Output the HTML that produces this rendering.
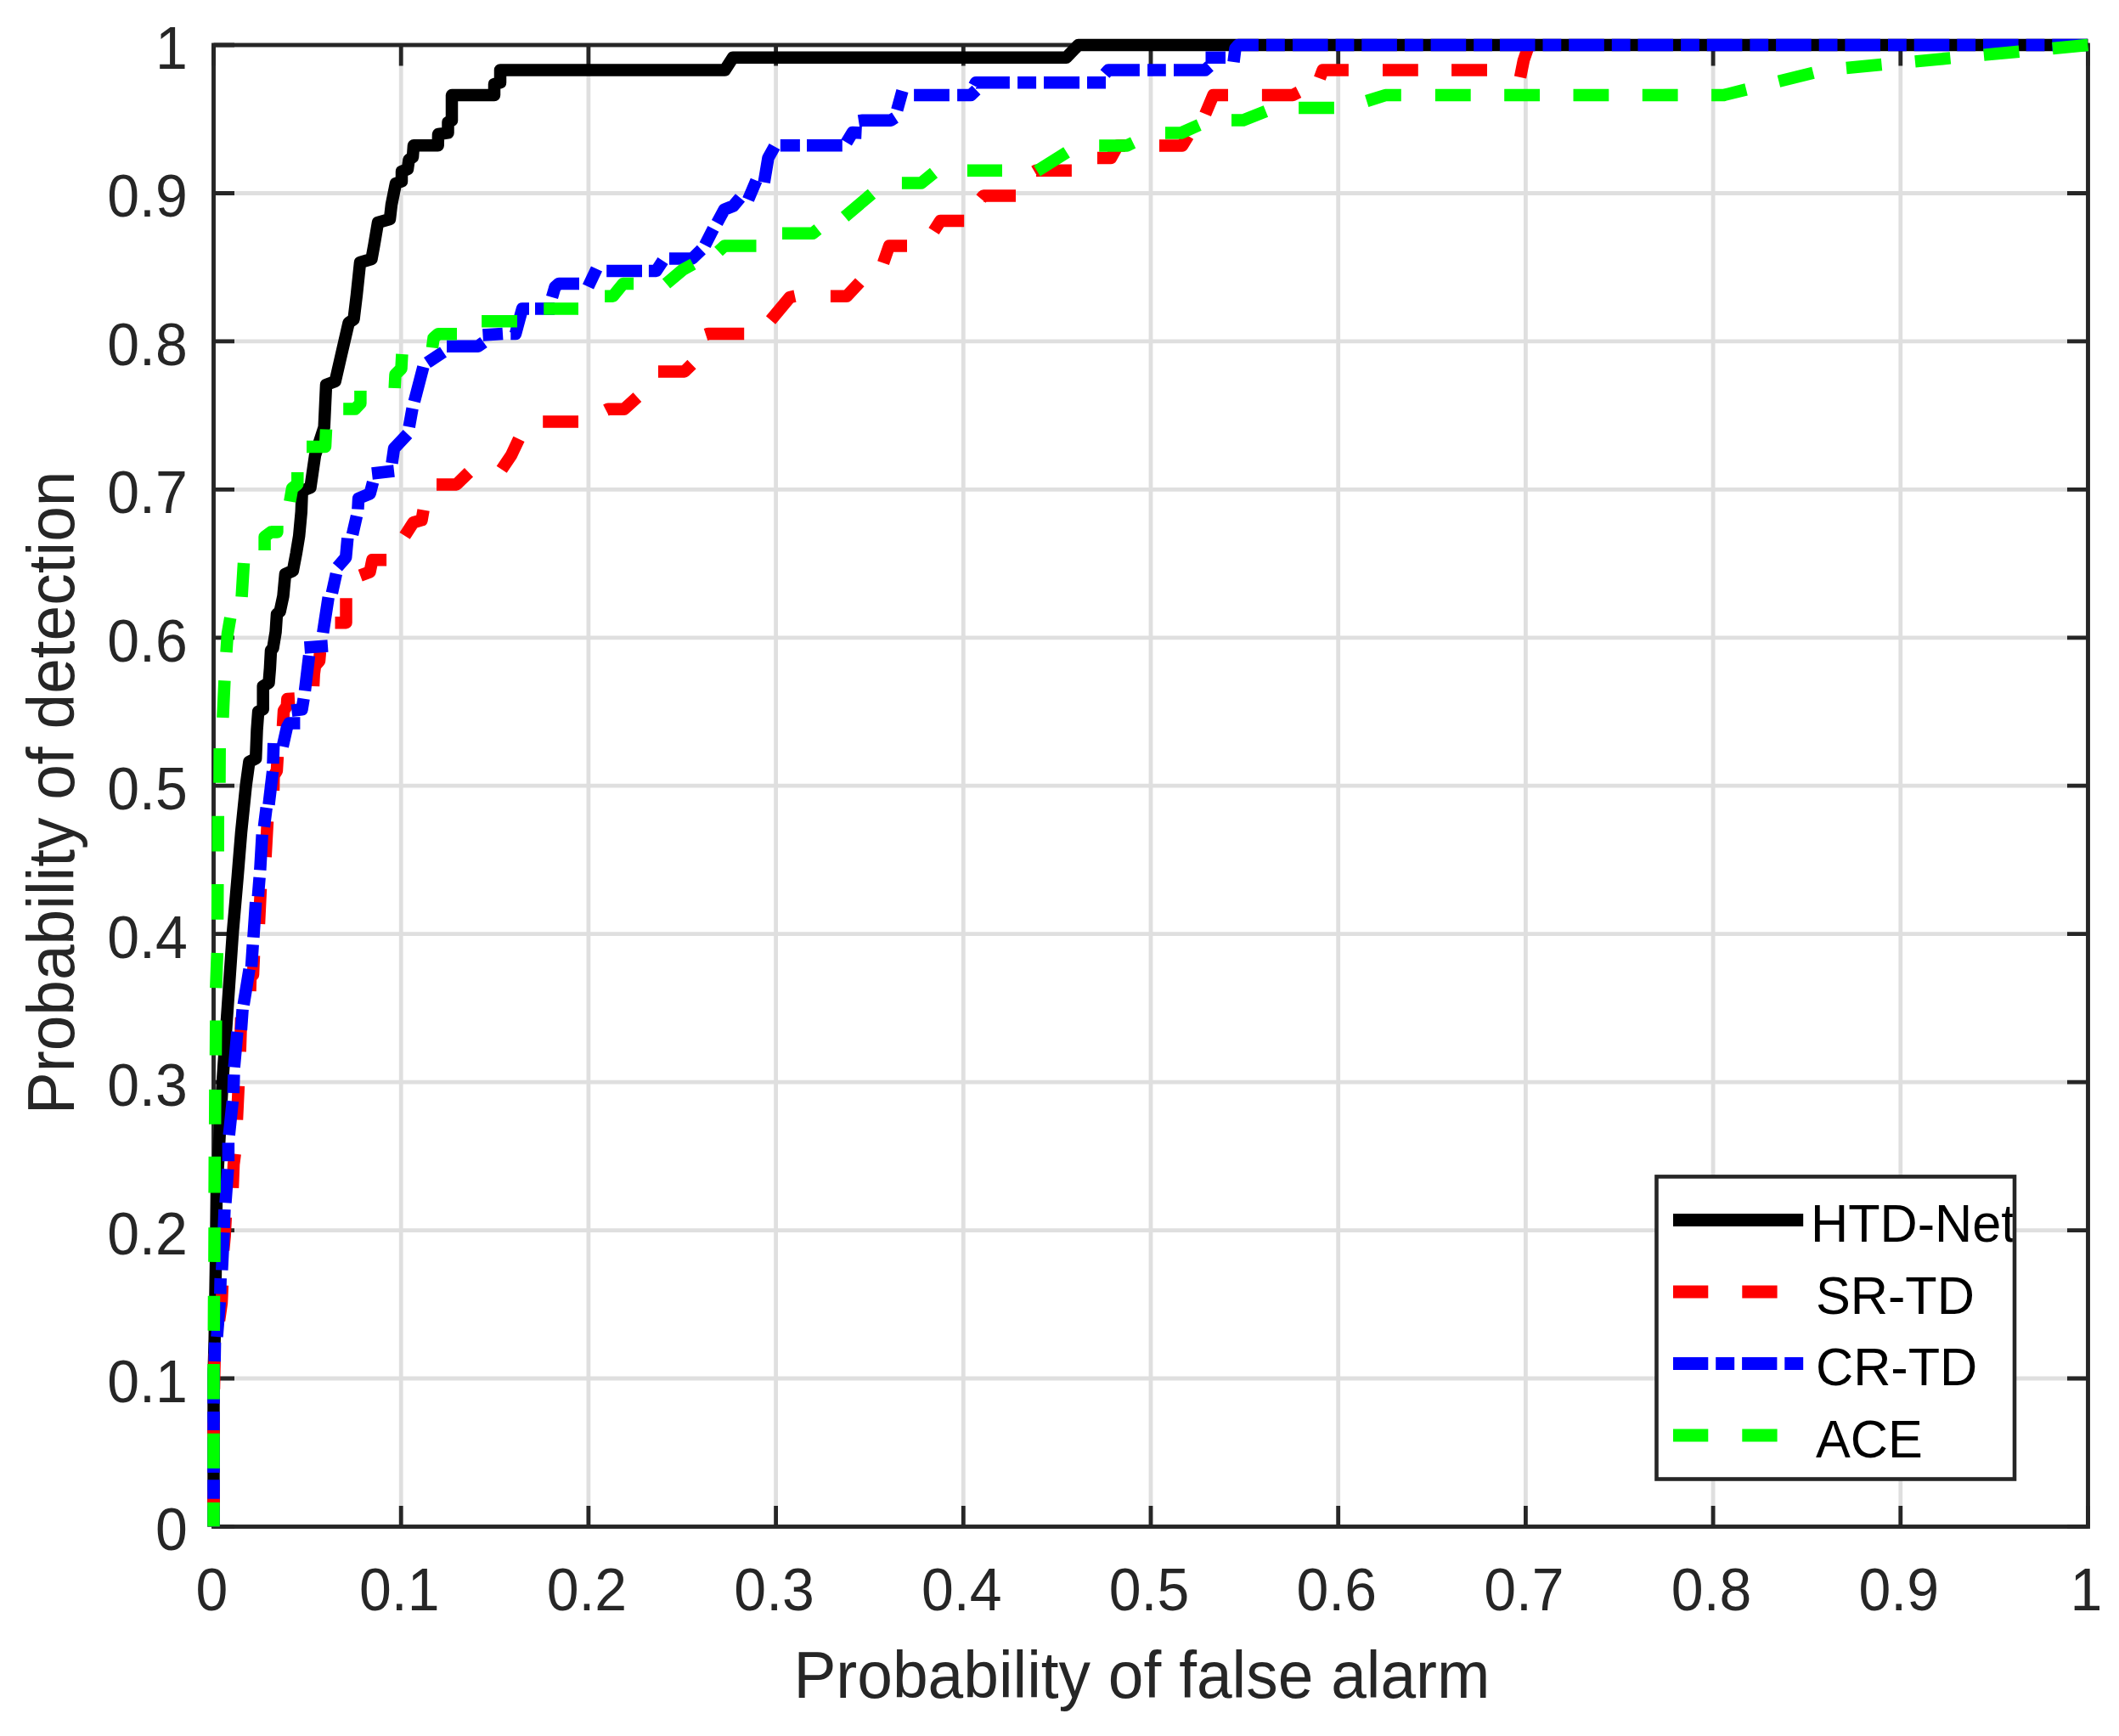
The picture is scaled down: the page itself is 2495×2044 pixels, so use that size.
<!DOCTYPE html>
<html lang="en"><head><meta charset="utf-8"><title>ROC curves</title>
<style>html,body{margin:0;padding:0;background:#fff}body{width:2495px;height:2044px;overflow:hidden}svg{display:block}text{font-family:"Liberation Sans",Arial,Helvetica,sans-serif}</style></head><body>
<svg width="2495" height="2044" viewBox="0 0 2495 2044">
<rect width="2495" height="2044" fill="#fff"/>
<defs><clipPath id="c"><rect x="230" y="30" width="2229" height="1767.7"/></clipPath>
<clipPath id="lg"><rect x="1952.7" y="1387.6" width="417.1" height="351.7"/></clipPath></defs>
<path d="M472.2 53V1797.5M251.5 1623H2458.5M692.9 53V1797.5M251.5 1448.6H2458.5M913.6 53V1797.5M251.5 1274.2H2458.5M1134.3 53V1797.5M251.5 1099.7H2458.5M1355 53V1797.5M251.5 925.2H2458.5M1575.7 53V1797.5M251.5 750.8H2458.5M1796.4 53V1797.5M251.5 576.4H2458.5M2017.1 53V1797.5M251.5 401.9H2458.5M2237.8 53V1797.5M251.5 227.5H2458.5" stroke="#dfdfdf" stroke-width="4.8" fill="none"/>
<path d="M251.5 1797.5v-24.5M251.5 53v24.5M251.5 1797.5h24.5M2458.5 1797.5h-24.5M472.2 1797.5v-24.5M472.2 53v24.5M251.5 1623h24.5M2458.5 1623h-24.5M692.9 1797.5v-24.5M692.9 53v24.5M251.5 1448.6h24.5M2458.5 1448.6h-24.5M913.6 1797.5v-24.5M913.6 53v24.5M251.5 1274.2h24.5M2458.5 1274.2h-24.5M1134.3 1797.5v-24.5M1134.3 53v24.5M251.5 1099.7h24.5M2458.5 1099.7h-24.5M1355 1797.5v-24.5M1355 53v24.5M251.5 925.2h24.5M2458.5 925.2h-24.5M1575.7 1797.5v-24.5M1575.7 53v24.5M251.5 750.8h24.5M2458.5 750.8h-24.5M1796.4 1797.5v-24.5M1796.4 53v24.5M251.5 576.4h24.5M2458.5 576.4h-24.5M2017.1 1797.5v-24.5M2017.1 53v24.5M251.5 401.9h24.5M2458.5 401.9h-24.5M2237.8 1797.5v-24.5M2237.8 53v24.5M251.5 227.5h24.5M2458.5 227.5h-24.5M2458.5 1797.5v-24.5M2458.5 53v24.5M251.5 53h24.5M2458.5 53h-24.5" stroke="#262626" stroke-width="4.8" fill="none"/>
<rect x="251.5" y="53" width="2207" height="1744.5" fill="none" stroke="#262626" stroke-width="4.9"/>
<g clip-path="url(#c)" fill="none" stroke-width="14.5" stroke-linejoin="round">
<polyline points="251.5,1797.5 251.5,1620 252.7,1577 254,1494 255,1405 262,1274 274,1099 279.7,1033 284,980 289.6,925 293.4,897 301.2,893 302.5,860 304.1,838 309.7,835 309.7,808 316.5,804 317.9,786.7 319,766 321.5,763 324.6,744 326,723 329.6,720 333.5,701.7 335.9,676 344.9,672 348.7,652 352.2,630.9 354.8,602.5 355.7,578 365.5,574 371,536 381.7,503 384,453 394.7,449 401.8,418 410.6,380 416.5,376 420,347 424,309 437.5,305 440.6,288 445,262 459,258 461,240.7 466,216 473,213.5 473,202 480,199 481.5,188 486,185 487,171.3 515.7,171.3 516,158 527.5,156.4 527.5,144 532,141.7 532,112.1 582,112.1 582,99 589,97.3 589,82.5 853.5,82.5 863,67.8 1255.5,67.8 1269.7,53 2458.5,53" stroke="#000"/>
<path d="M251.5 1797.5L251.5 1756M251.5 1716.5L251.5 1675M252 1635.5L252.8 1594M258 1555L261 1534L261.9 1513.4M263.1 1472.2L264.7 1455L265.8 1433.3M274 1398.8L275.1 1371L276.7 1358.6M279 1318.5L280.9 1278.6M282.7 1238.3L284 1198M294.5 1167L295 1150.4L298 1147.6L299 1125.2M305 1087.8L307 1046.3M312.7 1009L315 967M322 931L322.3 913.3L325.9 907.6L326.9 890.9M333 855.2L334.1 836.8L337.8 831.1L338.3 823L347 822.5M369 808L369.7 793.8L371 783.9L376 778.2L376.9 767.6M394.5 733.2L407.5 733.2L407.5 704.3M424.2 677.6L435.5 673.4L438.4 659.2L455.1 659.2M476.6 630.9L486.6 615.3L496.5 612.4L498.6 600.4M514 570.4L537.5 570.4L552 556.3M590.7 552.8L602 536L611 516.9M639.2 496.5L681 496.5M713.5 483L716 481.7L735 481.7L750.4 467.6M775 437.4L806 437.4L814.5 429M831 394L834 393L876.2 393M907.5 377L930 350L936 348.7M977.9 348.7L997 348.7L1012.3 332.4M1040 309.7L1047 289.5L1068 289.5M1099.5 272.2L1107.3 260L1135.2 260M1155 234L1158 230.4L1196 230.4M1218 202L1220 200.8L1261.9 200.8M1292 186L1308 186L1316 171.4L1325 171.4M1365 171.4L1392 171.4L1399 160M1419.2 134.2L1428.5 112.1L1446 112.1M1485.9 112.1L1522 112.1L1529 108.5M1553.9 92.3L1557.5 82.5L1587.9 82.5M1628 82.5L1669.8 82.5M1709.1 82.5L1751 82.5M1790 91L1794 71L1798.5 58L1799 53" stroke="#f00"/>
<path d="M251.5 1797.5L251.5 1773M251.5 1764.7L251.5 1742.3M251.5 1734L251.5 1692M251.5 1684L251.5 1662M251.5 1652.6L251.7 1610.6M252.7 1603L253.1 1580.6M255.5 1574L258.8 1532.8M259.3 1523.5L259.7 1505M261.3 1495.5L263.5 1451.2M263.6 1445.7L264.4 1424M265.5 1416.2L268.4 1376.5M268.9 1367.2L268.9 1345.4M269.7 1336.6L273.9 1296.4M274.8 1287L275.4 1265.2M275.7 1256.7L279.4 1215M283.9 1212.8L285.6 1188.4M286.8 1183L293.6 1141.2M296 1138.4L297.7 1112.2M298.4 1103.7L301.2 1062.3M303.8 1055.5L305.6 1033.1M306.3 1024.5L308.7 982.7M310.9 973.5L313.7 951M316.5 947.3L321.1 908.3M321.5 899.1L322.2 875M332.8 879L337.8 856.6L340.6 851.6L353.4 851.6M343.4 836.8L355.5 835.3L357.6 822.6M359 813.4L364 771.9M358.5 762.5L386 760.5M380.3 745L386.7 703.4M390.9 698.2L395.9 675.5M397.3 667.7L407.2 656.4L409.3 633.7M415 629.4L420 607.5M421.4 599.7L422.1 586.9L435.6 581.3L439.1 567.8M438 557.5L464 554.5M461.5 545.4L464 528L480 511M481.7 502.6L485.6 480.9M487.8 472.8L498.4 432M503 427L522 414.5M526 407.7L563 407.7L569.5 403M568.5 394.5L592 393M601.3 393L607 393L615 363.4L623 363.4M630 363.4L653 363.4M650 350L653.5 338L658 334L682 334M692.5 337.5L702.5 316.5M714.2 318.9L756 318.9M763.9 318.9L772.7 318.9L780.5 307M788 304.4L815.2 304.4L825.9 294M830.1 288.6L839.9 269.4M844.3 262.5L852.8 246.8L863.4 242.5L871.5 232.8M881 235L890.5 212.5M899.7 214.8L904.5 186L912 172.5M918.8 171.3L941.9 171.3M950 171.3L991.8 171.3M996.7 167.7L1003.8 156L1014.5 156.5M1011 142.5L1016 141.7L1049 141.7L1054 138.5M1056.3 129.5L1062.5 107M1076.1 112.1L1117.9 112.1M1127.1 112.1L1143 112.1L1149.5 106M1147 101L1149 97.3L1188.9 97.3M1198.1 97.3L1220.1 97.3M1229 97.3L1271.1 97.3M1280 97.3L1302 97.3M1301 87L1305 82.5L1341.9 82.5M1351.1 82.5L1372.8 82.5M1382 82.5L1419 82.5L1424 78M1419.5 67.8L1443 67.8M1452.5 73L1454.5 57L1458 53L1481.9 53M1490.9 53L1512.8 53" stroke="#00f"/>
<path d="M1522 53L2458.5 53" stroke="#00f" stroke-dasharray="41.6 9 21.8 8.9"/>
<path d="M251.5 1797.5L251.5 1769M251.5 1729L251.5 1687.7M251.5 1647.4L251.5 1606M251.8 1566.9L252 1525.8M252.4 1485.9L252.6 1445.3M252.6 1404.5L252.8 1361.8M253.2 1323.7L253.4 1282.9M254 1242.6L254.3 1201.5M254.3 1163.2L255.8 1122.1M256.1 1082.7L256.3 1041M256.7 1002.6L256.8 960.8M258.5 921.8L258.7 881M262.4 845L264.4 801.3M266.5 768L268 746L271.2 727.5M284.6 702.8L287 663M311.6 648L311.6 632L319 626.5L326.4 626.5L326.4 619M341.3 590.5L344 575L350.3 570L350.3 556M361 526L383 526L384 505.5M404.2 481.6L418 481.6L424.4 475L424.4 460M464.7 457L465.5 441L472.5 434L473.4 417M509 409.4L510.5 398L516 393.2L538 393.2M567.1 378.3L609 378.3M640.2 363.5L681 363.5M712.1 348.8L721.7 348.8L733.7 334L746.1 334M784.5 334L803.9 317.6L816 311M846 296L853 289.5L890.5 289.5M921 274.7L957 274.7L963 270M994.6 255.2L1026.5 228.2M1061.9 215.6L1084.6 215.6L1099.5 203.5M1138.9 200.8L1180 200.8M1221 201.3L1256 179.4M1294.2 171.4L1327 171.4L1334.1 168M1372 156.5L1390.8 156.5L1411.8 147.2M1450 141.6L1463.9 141.6L1490.4 131M1529.1 126.9L1570.9 126.9M1609.2 119L1631.1 112.1L1649.8 112.1" stroke="#0f0"/>
<path d="M1689.9 112.1L2029 112.1L2148 82.5L2458.5 53" stroke="#0f0" stroke-dasharray="41.8 39.5"/>
</g>
<g font-size="68" fill="#262626">
<text transform="translate(249.5,1896.3) scale(1,1.04)" text-anchor="middle">0</text>
<text transform="translate(470.2,1896.3) scale(1,1.04)" text-anchor="middle">0.1</text>
<text transform="translate(690.9,1896.3) scale(1,1.04)" text-anchor="middle">0.2</text>
<text transform="translate(911.6,1896.3) scale(1,1.04)" text-anchor="middle">0.3</text>
<text transform="translate(1132.3,1896.3) scale(1,1.04)" text-anchor="middle">0.4</text>
<text transform="translate(1353,1896.3) scale(1,1.04)" text-anchor="middle">0.5</text>
<text transform="translate(1573.7,1896.3) scale(1,1.04)" text-anchor="middle">0.6</text>
<text transform="translate(1794.4,1896.3) scale(1,1.04)" text-anchor="middle">0.7</text>
<text transform="translate(2015.1,1896.3) scale(1,1.04)" text-anchor="middle">0.8</text>
<text transform="translate(2235.8,1896.3) scale(1,1.04)" text-anchor="middle">0.9</text>
<text transform="translate(2456.5,1896.3) scale(1,1.04)" text-anchor="middle">1</text>
<text transform="translate(220.8,1825.4) scale(1,1.04)" text-anchor="end">0</text>
<text transform="translate(220.8,1651) scale(1,1.04)" text-anchor="end">0.1</text>
<text transform="translate(220.8,1476.5) scale(1,1.04)" text-anchor="end">0.2</text>
<text transform="translate(220.8,1302.1) scale(1,1.04)" text-anchor="end">0.3</text>
<text transform="translate(220.8,1127.6) scale(1,1.04)" text-anchor="end">0.4</text>
<text transform="translate(220.8,953.1) scale(1,1.04)" text-anchor="end">0.5</text>
<text transform="translate(220.8,778.7) scale(1,1.04)" text-anchor="end">0.6</text>
<text transform="translate(220.8,604.3) scale(1,1.04)" text-anchor="end">0.7</text>
<text transform="translate(220.8,429.8) scale(1,1.04)" text-anchor="end">0.8</text>
<text transform="translate(220.8,255.4) scale(1,1.04)" text-anchor="end">0.9</text>
<text transform="translate(220.8,80.9) scale(1,1.04)" text-anchor="end">1</text>
</g>
<text transform="translate(1344.4,1998.8) scale(1,1.04)" font-size="74.9" fill="#262626" text-anchor="middle">Probability of false alarm</text>
<text transform="translate(86.9,933.4) rotate(-90) scale(1,1.04)" font-size="74.9" fill="#262626" text-anchor="middle">Probability of detection</text>
<rect x="1950.5" y="1385.4" width="421.5" height="356.1" fill="#fff" stroke="#262626" stroke-width="4.6"/>
<g clip-path="url(#lg)">
<g fill="none" stroke-width="15">
<path d="M1970 1436.5H2123.2" stroke="#000"/>
<path d="M1970 1521H2123.2" stroke="#f00" stroke-dasharray="41.3 40"/>
<path d="M1970 1605.5H2123.2" stroke="#00f" stroke-dasharray="41.3 8.9 22 8.9"/>
<path d="M1970 1690H2123.2" stroke="#0f0" stroke-dasharray="41.3 40"/>
</g>
<g font-size="61.2" fill="#000">
<text transform="translate(2132,1462) scale(1,1.04)">HTD-Net</text>
<text transform="translate(2138,1546.5) scale(1,1.04)">SR-TD</text>
<text transform="translate(2138,1631) scale(1,1.04)">CR-TD</text>
<text transform="translate(2138,1715.5) scale(1,1.04)">ACE</text>
</g></g>
</svg></body></html>
